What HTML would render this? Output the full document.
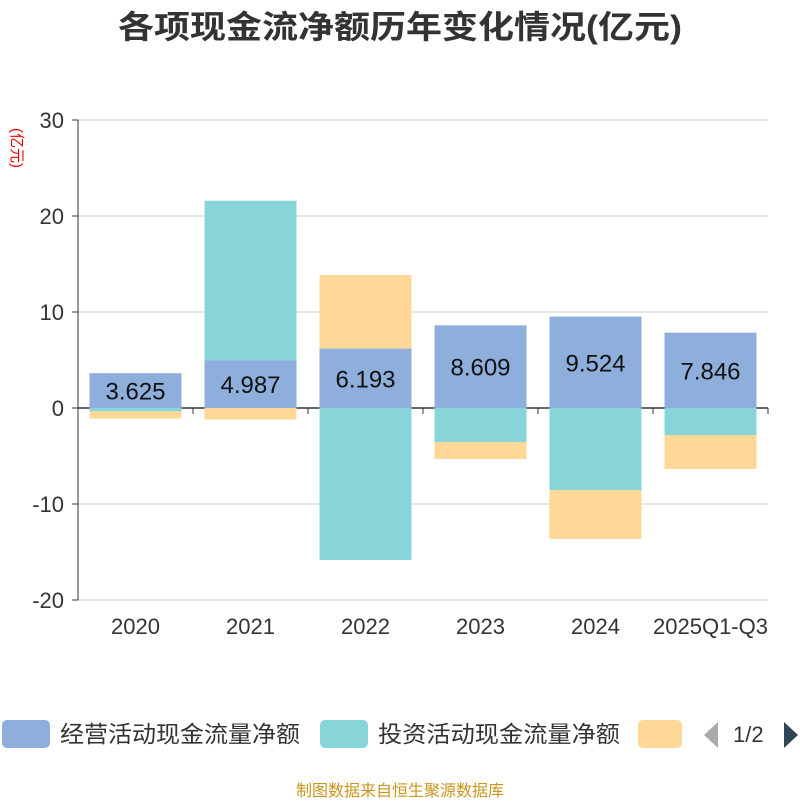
<!DOCTYPE html>
<html><head><meta charset="utf-8"><style>
body{margin:0;background:#fff;font-family:"Liberation Sans","Noto Sans CJK SC",sans-serif;}
</style></head><body>
<svg id="c" width="800" height="800" xmlns="http://www.w3.org/2000/svg" style="font-family:'Liberation Sans','Noto Sans CJK SC',sans-serif">
<text x="118" y="38" textLength="564" lengthAdjust="spacingAndGlyphs" font-size="32" font-weight="bold" fill="#333">各项现金流净额历年变化情况(亿元)</text>
<text x="12" y="148" font-size="15" fill="#e00" transform="rotate(90 12 148)" text-anchor="middle">(亿元)</text>
<g id="grid"></g><g id="bars"></g><g id="axes"></g>
<g>
<rect x="2" y="720" width="48" height="28" rx="5" fill="#8eaedb"/>
<text x="60" y="742" font-size="23" textLength="240" lengthAdjust="spacingAndGlyphs" fill="#333">经营活动现金流量净额</text>
<rect x="320" y="720" width="48" height="28" rx="5" fill="#87d5d9"/>
<text x="378" y="742" font-size="23" textLength="242" lengthAdjust="spacingAndGlyphs" fill="#333">投资活动现金流量净额</text>
<rect x="638" y="720" width="44" height="28" rx="5" fill="#ffd898"/>
<path d="M718 722 L704 735 L718 748 Z" fill="#aaa"/>
<text x="733" y="742" font-size="22" fill="#333">1/2</text>
<path d="M784 722 L798 735 L784 748 Z" fill="#2f4554"/>
</g>
<text x="400" y="796" text-anchor="middle" font-size="16" fill="#c8961e">制图数据来自恒生聚源数据库</text>
</svg>
<script>
const categories=["2020","2021","2022","2023","2024","2025Q1-Q3"];
const operating=[3.625,4.987,6.193,8.609,9.524,7.846];
const investing=[-0.35,16.6,-15.83,-3.54,-8.54,-2.81];
const financing=[-0.75,-1.2,7.66,-1.77,-5.1,-3.54];
const yTicks=[-20,-10,0,10,20,30];
const NS="http://www.w3.org/2000/svg";
const x0=78,x1=768,bw=(x1-x0)/categories.length;
const y=v=>408-v*9.6;
function mk(tag,attrs,parent){const e=document.createElementNS(NS,tag);for(const k in attrs)e.setAttribute(k,attrs[k]);document.getElementById(parent).appendChild(e);return e;}
yTicks.forEach(t=>{
 const l=mk('line',{x1:x0,x2:x1,y1:y(t),y2:y(t),stroke:t===0?'#333':'#ccc','stroke-width':t===0?1.5:1},'grid');
 
 
 const tk=mk('line',{x1:x0-6,x2:x0,y1:y(t),y2:y(t),stroke:'#333'},'axes');
 
 
 const tx=mk('text',{x:x0-14,y:y(t)+8,'text-anchor':'end','font-size':22,fill:'#333'},'axes');
 tx.textContent=t;
 
 
});
const ya=mk('line',{x1:x0,x2:x0,y1:y(30),y2:y(-20),stroke:'#333'},'axes');


const series=[[operating,'#8eaedb','operating'],[investing,'#87d5d9','investing'],[financing,'#ffd898','financing']];
categories.forEach((c,i)=>{
 const cx=x0+bw*(i+0.5);
 let pos=0,neg=0;
 series.forEach(([arr,col,nm])=>{
  const v=arr[i];let a,b;
  if(v>=0){a=pos;b=pos+v;pos=b;}else{a=neg;b=neg+v;neg=b;}
  const r=mk('rect',{x:cx-46,width:92,y:Math.min(y(a),y(b)),height:Math.abs(y(a)-y(b)),fill:col},'bars');
  
  
 });
 const lb=mk('text',{x:cx,y:(y(0)+y(operating[i]))/2+9,'text-anchor':'middle','font-size':24,fill:'#111'},'bars');
 lb.textContent=operating[i].toFixed(3);
 
 
 const tk=mk('line',{x1:x0+bw*i,x2:x0+bw*i,y1:408,y2:414,stroke:'#333'},'axes');
 
 
 const xl=mk('text',{x:cx,y:634,'text-anchor':'middle','font-size':22,fill:'#333'},'axes');
 xl.textContent=c;
 
 
});
const lt=mk('line',{x1:x1,x2:x1,y1:408,y2:414,stroke:'#333'},'axes');


</script>
</body></html>
